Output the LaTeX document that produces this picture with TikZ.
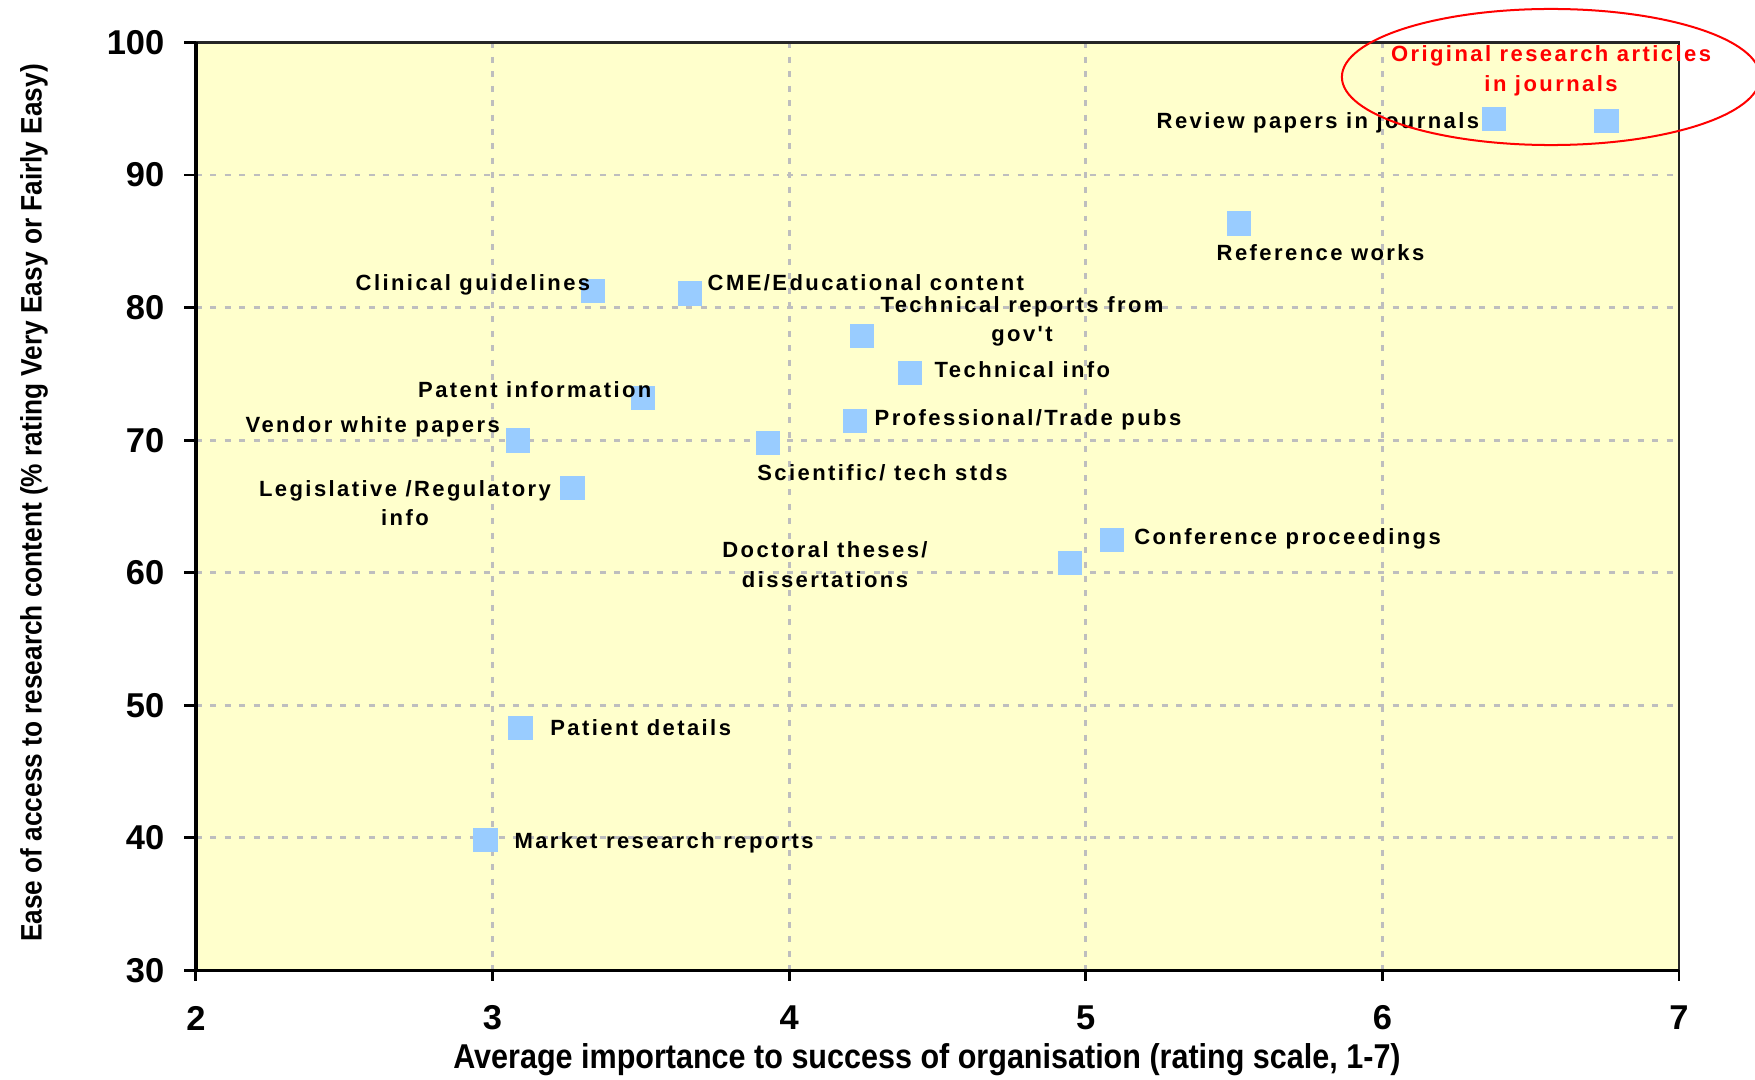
\documentclass[tikz,border=0pt]{standalone}
\usepackage{fontspec}
\setmainfont{Liberation Sans}
\newfontfamily\lblfont{Liberation Sans}[LetterSpace=11]
\newfontfamily\axfont{Liberation Sans}[FakeStretch=0.886]
\definecolor{plotbg}{HTML}{FFFFCC}
\definecolor{markblue}{HTML}{99CCFF}
\definecolor{gridgray}{HTML}{BEBEBE}
\definecolor{ringred}{HTML}{FF0000}
\tikzset{
  mk/.style={fill=markblue, draw=none, minimum size=0.245cm, inner sep=0pt},
  lbl/.style={font=\lblfont\bfseries\fontsize{6.26pt}{8.34pt}\selectfont, inner sep=0pt, text=black},
  lbllft/.style={lbl, anchor=base west},
  lblctr/.style={lbl, anchor=base},
  ticklbl/.style={font=\bfseries\fontsize{9.8pt}{11pt}\selectfont, inner sep=0pt},
  gridln/.style={draw=gridgray, line width=0.85pt, dash pattern=on 1.7pt off 2.4pt},
  axisln/.style={line width=1.0pt, draw=black},
  frameln/.style={line width=0.71pt, draw=black!85},
}
\newcommand\twoline[2]{\begin{tabular}[t]{@{}c@{}}#1\\#2\end{tabular}}
\begin{document}
\begin{tikzpicture}[x=0.01cm, y=-0.01cm]
\useasboundingbox (0,0) rectangle (1755,1079);
\clip (0,0) rectangle (1755,1079);
% plot area
\fill[plotbg] (195.9,42.5) rectangle (1679,970.4);
% grid
\foreach \gx in {492.5,789.1,1085.8,1382.4}
  \draw[gridln] (\gx,42.5) -- (\gx,970.4);
\foreach \gy in {42.5,175.0,307.6,440.2,572.7,705.3,837.8}
  \draw[gridln] (195.9,\gy) -- (1679,\gy);
% frame and axes
\draw[frameln] (195.9,42.5) -- (1679,42.5) -- (1679,970.4);
\draw[axisln] (195.9,42.5) -- (195.9,970.4) -- (1679,970.4);
% ticks and tick labels
\foreach \v/\gy in {30/970.4,40/837.8,50/705.3,60/572.7,70/440.2,80/307.6,90/175.0,100/42.5}{
  \draw[axisln, line width=0.8pt] (184,\gy) -- (195.9,\gy);
  \node[ticklbl, anchor=east] (yt\v) at (165,\gy) {\v};
}
\foreach \v/\gx in {2/195.9,3/492.5,4/789.1,5/1085.8,6/1382.4,7/1679}{
  \draw[axisln, line width=0.8pt] (\gx,970.4) -- (\gx,981);
  \node[ticklbl] (xt\v) at (\gx,1018) {\v};
}
% axis titles
\node[font=\axfont\bfseries\fontsize{9.8pt}{11pt}\selectfont, inner sep=0pt, anchor=base] (xtitle) at (927,1068)
  {Average importance to success of organisation (rating scale, 1-7)};
\node[font=\axfont\bfseries\fontsize{8.42pt}{10pt}\selectfont, inner sep=0pt, rotate=90] (ytitle) at (34,503)
  {Ease of access to research content (\% rating Very Easy or Fairly Easy)};
% markers
\node[mk] (orig) at (1606.5,121) {};
\node[mk] (review) at (1494,119) {};
\node[mk] (refw) at (1239,223.6) {};
\node[mk] (clin) at (593,291) {};
\node[mk] (cme) at (690,293.7) {};
\node[mk] (techrep) at (862,336) {};
\node[mk] (techinfo) at (910,373) {};
\node[mk] (patent) at (643,398) {};
\node[mk] (vendor) at (518,440.5) {};
\node[mk] (prof) at (855,421) {};
\node[mk] (sci) at (768,443) {};
\node[mk] (legis) at (572.7,488) {};
\node[mk] (conf) at (1112,540) {};
\node[mk] (doct) at (1070,563) {};
\node[mk] (patient) at (520.5,728) {};
\node[mk] (market) at (485.5,840) {};
% labels
\node[lblctr, text=ringred] (origL) at (1551,61.7) {\twoline{Original research articles}{in journals}};
\node[lbllft] (reviewL) at (1156,128.3) {Review papers in journals};
\node[lbllft] (refwL) at (1216,260) {Reference works};
\node[lbllft] (clinL) at (355,290.7) {Clinical guidelines};
\node[lbllft] (cmeL) at (707,290.7) {CME/Educational content};
\node[lblctr] (techrepL) at (1022,312.3) {\twoline{Technical reports from}{gov't}};
\node[lbllft] (techinfoL) at (934,377.3) {Technical info};
\node[lbllft] (patentL) at (417.5,397.7) {Patent information};
\node[lbllft] (vendorL) at (245,432.7) {Vendor white papers};
\node[lbllft] (profL) at (874,425.7) {Professional/Trade pubs};
\node[lbllft] (sciL) at (756.6,480) {Scientific/ tech stds};
\node[lblctr] (legisL) at (405,496) {\twoline{Legislative /Regulatory}{info}};
\node[lbllft] (confL) at (1133.6,544.3) {Conference proceedings};
\node[lblctr] (doctL) at (825,557.7) {\twoline{Doctoral theses/}{dissertations}};
\node[lbllft] (patientL) at (549.6,735) {Patient details};
\node[lbllft] (marketL) at (513.8,848.3) {Market research reports};
% highlight ring
\draw[ringred, line width=0.57pt] (1551,77) ellipse [x radius=2.09cm, y radius=0.68cm];
\end{tikzpicture}
\end{document}
